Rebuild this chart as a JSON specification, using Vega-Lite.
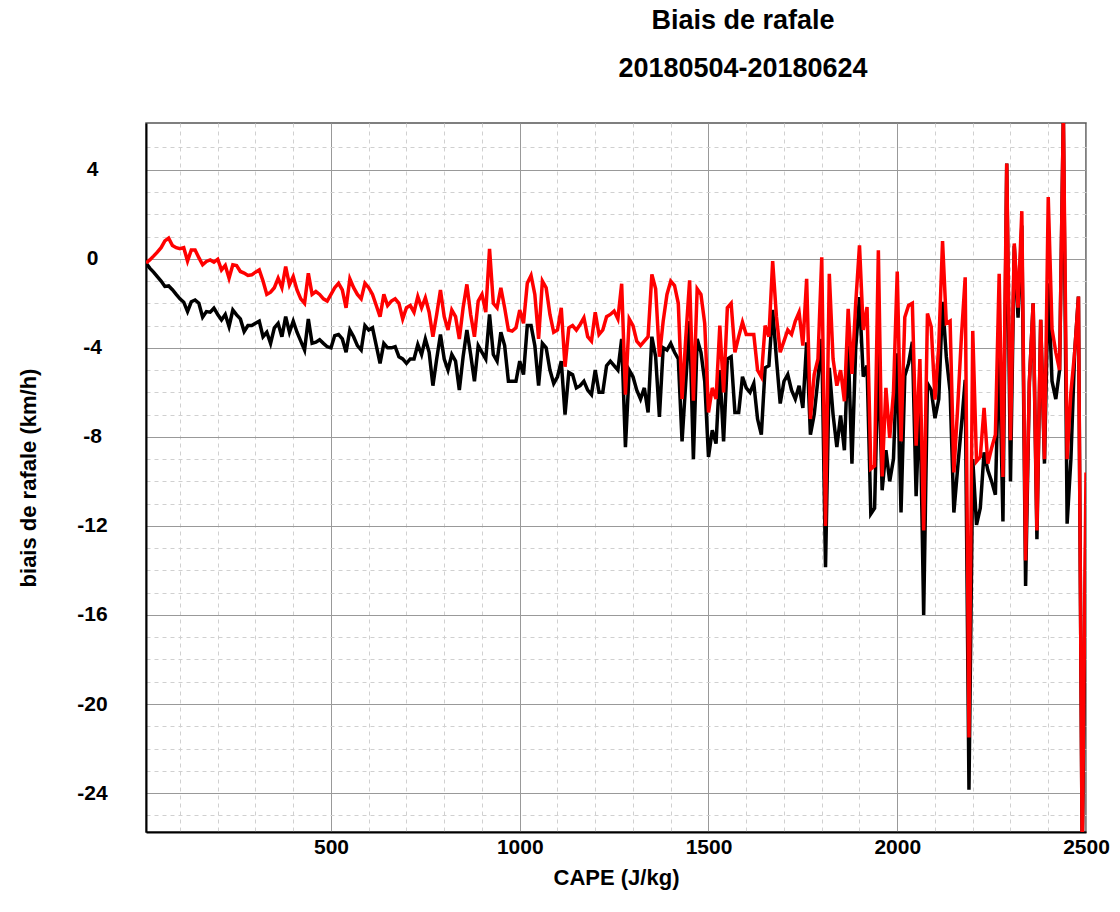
{
 "$schema": "https://vega.github.io/schema/vega-lite/v6.json",
 "width": 940, "height": 709,
 "autosize": {"type": "none"},
 "padding": {"left": 146, "top": 123, "right": 34, "bottom": 80},
 "background": "white",
 "title": {"text": ["Biais de rafale", "20180504-20180624"], "font": "Liberation Sans", "fontSize": 27, "fontWeight": "bold", "color": "black", "lineHeight": 48, "anchor": "middle", "dx": 127, "offset": 40},
 "config": {
  "view": {"stroke": "#555555", "strokeWidth": 1.5},
  "axis": {"labelFont": "Liberation Sans", "labelFontWeight": "bold", "labelFontSize": 21, "labelColor": "black", "titleFont": "Liberation Sans", "titleFontWeight": "bold", "titleFontSize": 22, "titleColor": "black", "ticks": false, "tickSize": 0, "domainColor": "black", "domainWidth": 2, "labelOverlap": false}
 },
 "data": {"values": [
{"cape":10,"noir":-0.19,"rouge":-0.19},{"cape":20,"noir":-0.42,"rouge":-0.05},{"cape":30,"noir":-0.6,"rouge":0.12},{"cape":40,"noir":-0.8,"rouge":0.3},{"cape":50,"noir":-1.0,"rouge":0.5},
{"cape":60,"noir":-1.24,"rouge":0.8},{"cape":70,"noir":-1.22,"rouge":0.93},{"cape":80,"noir":-1.39,"rouge":0.6},{"cape":90,"noir":-1.6,"rouge":0.5},{"cape":100,"noir":-1.8,"rouge":0.45},
{"cape":110,"noir":-1.95,"rouge":0.5},{"cape":120,"noir":-2.37,"rouge":-0.1},{"cape":130,"noir":-1.93,"rouge":0.4},{"cape":140,"noir":-1.85,"rouge":0.4},{"cape":150,"noir":-2.0,"rouge":0.05},
{"cape":160,"noir":-2.62,"rouge":-0.27},{"cape":170,"noir":-2.37,"rouge":-0.12},{"cape":180,"noir":-2.4,"rouge":-0.05},{"cape":190,"noir":-2.22,"rouge":-0.15},{"cape":200,"noir":-2.5,"rouge":-0.02},
{"cape":210,"noir":-2.75,"rouge":-0.5},{"cape":220,"noir":-2.5,"rouge":-0.3},{"cape":230,"noir":-3.04,"rouge":-0.87},{"cape":240,"noir":-2.3,"rouge":-0.27},{"cape":250,"noir":-2.52,"rouge":-0.3},
{"cape":260,"noir":-2.7,"rouge":-0.57},{"cape":270,"noir":-3.27,"rouge":-0.64},{"cape":280,"noir":-3.0,"rouge":-0.75},{"cape":290,"noir":-3.0,"rouge":-0.72},{"cape":300,"noir":-2.9,"rouge":-0.6},
{"cape":310,"noir":-2.8,"rouge":-0.5},{"cape":320,"noir":-3.5,"rouge":-1.0},{"cape":330,"noir":-3.3,"rouge":-1.6},{"cape":340,"noir":-3.8,"rouge":-1.5},{"cape":350,"noir":-3.1,"rouge":-1.3},
{"cape":360,"noir":-2.9,"rouge":-0.87},{"cape":370,"noir":-3.5,"rouge":-1.3},{"cape":380,"noir":-2.6,"rouge":-0.35},{"cape":390,"noir":-3.3,"rouge":-1.17},{"cape":400,"noir":-2.8,"rouge":-0.8},
{"cape":410,"noir":-3.3,"rouge":-1.4},{"cape":420,"noir":-3.7,"rouge":-1.8},{"cape":430,"noir":-4.1,"rouge":-2.0},{"cape":440,"noir":-2.7,"rouge":-0.65},{"cape":450,"noir":-3.8,"rouge":-1.6},
{"cape":460,"noir":-3.75,"rouge":-1.47},{"cape":470,"noir":-3.64,"rouge":-1.6},{"cape":480,"noir":-3.8,"rouge":-1.8},{"cape":490,"noir":-3.95,"rouge":-1.9},{"cape":500,"noir":-4.0,"rouge":-1.6},
{"cape":510,"noir":-3.45,"rouge":-1.3},{"cape":520,"noir":-3.4,"rouge":-1.1},{"cape":530,"noir":-3.6,"rouge":-1.4},{"cape":540,"noir":-4.2,"rouge":-2.2},{"cape":550,"noir":-3.2,"rouge":-0.9},
{"cape":560,"noir":-3.5,"rouge":-1.3},{"cape":570,"noir":-3.9,"rouge":-1.6},{"cape":580,"noir":-4.1,"rouge":-1.8},{"cape":590,"noir":-3.0,"rouge":-1.1},{"cape":600,"noir":-3.2,"rouge":-1.3},
{"cape":610,"noir":-3.1,"rouge":-1.6},{"cape":620,"noir":-3.9,"rouge":-2.1},{"cape":630,"noir":-4.7,"rouge":-2.6},{"cape":640,"noir":-3.8,"rouge":-1.6},{"cape":650,"noir":-4.0,"rouge":-2.1},
{"cape":660,"noir":-4.0,"rouge":-1.9},{"cape":670,"noir":-3.95,"rouge":-1.8},{"cape":680,"noir":-4.4,"rouge":-2.0},{"cape":690,"noir":-4.5,"rouge":-2.7},{"cape":700,"noir":-4.7,"rouge":-2.2},
{"cape":710,"noir":-4.5,"rouge":-2.1},{"cape":720,"noir":-4.5,"rouge":-2.4},{"cape":730,"noir":-3.85,"rouge":-1.7},{"cape":740,"noir":-4.3,"rouge":-2.2},{"cape":750,"noir":-3.6,"rouge":-1.75},
{"cape":760,"noir":-4.2,"rouge":-2.4},{"cape":770,"noir":-5.7,"rouge":-3.5},{"cape":780,"noir":-4.5,"rouge":-2.5},{"cape":790,"noir":-3.4,"rouge":-1.4},{"cape":800,"noir":-4.5,"rouge":-2.6},
{"cape":810,"noir":-5.0,"rouge":-3.2},{"cape":820,"noir":-4.3,"rouge":-2.3},{"cape":830,"noir":-4.6,"rouge":-2.6},{"cape":840,"noir":-5.9,"rouge":-3.6},{"cape":850,"noir":-4.4,"rouge":-2.2},
{"cape":860,"noir":-3.2,"rouge":-1.15},{"cape":870,"noir":-4.3,"rouge":-2.5},{"cape":880,"noir":-5.5,"rouge":-3.5},{"cape":890,"noir":-3.9,"rouge":-1.9},{"cape":900,"noir":-4.2,"rouge":-1.6},
{"cape":910,"noir":-4.5,"rouge":-2.4},{"cape":920,"noir":-2.5,"rouge":0.45},{"cape":930,"noir":-4.3,"rouge":-2.0},{"cape":940,"noir":-4.6,"rouge":-2.2},{"cape":950,"noir":-3.3,"rouge":-1.3},
{"cape":960,"noir":-3.9,"rouge":-2.2},{"cape":970,"noir":-5.5,"rouge":-3.2},{"cape":980,"noir":-5.5,"rouge":-3.25},{"cape":990,"noir":-5.5,"rouge":-3.1},{"cape":1000,"noir":-4.6,"rouge":-2.3},
{"cape":1010,"noir":-5.2,"rouge":-2.9},{"cape":1020,"noir":-3.0,"rouge":-1.1},{"cape":1030,"noir":-3.0,"rouge":-0.75},{"cape":1040,"noir":-3.9,"rouge":-1.6},{"cape":1050,"noir":-5.7,"rouge":-3.6},
{"cape":1060,"noir":-3.8,"rouge":-1.0},{"cape":1070,"noir":-4.0,"rouge":-1.3},{"cape":1080,"noir":-5.0,"rouge":-2.5},{"cape":1090,"noir":-5.6,"rouge":-3.3},{"cape":1100,"noir":-5.3,"rouge":-3.2},
{"cape":1110,"noir":-4.6,"rouge":-2.2},{"cape":1120,"noir":-7.0,"rouge":-4.85},{"cape":1130,"noir":-5.1,"rouge":-3.1},{"cape":1140,"noir":-5.2,"rouge":-3.0},{"cape":1150,"noir":-5.8,"rouge":-3.2},
{"cape":1160,"noir":-5.7,"rouge":-2.95},{"cape":1170,"noir":-5.5,"rouge":-2.65},{"cape":1180,"noir":-5.9,"rouge":-3.5},{"cape":1190,"noir":-6.1,"rouge":-3.7},{"cape":1200,"noir":-5.0,"rouge":-2.4},
{"cape":1210,"noir":-6.0,"rouge":-3.4},{"cape":1220,"noir":-6.0,"rouge":-3.2},{"cape":1230,"noir":-4.8,"rouge":-2.6},{"cape":1240,"noir":-4.6,"rouge":-2.5},{"cape":1250,"noir":-4.8,"rouge":-2.35},
{"cape":1260,"noir":-5.0,"rouge":-2.7},{"cape":1270,"noir":-3.6,"rouge":-1.12},{"cape":1280,"noir":-8.46,"rouge":-6.1},{"cape":1290,"noir":-5.0,"rouge":-2.7},{"cape":1300,"noir":-5.3,"rouge":-3.0},
{"cape":1310,"noir":-5.9,"rouge":-3.7},{"cape":1320,"noir":-6.3,"rouge":-3.9},{"cape":1330,"noir":-5.8,"rouge":-3.7},{"cape":1340,"noir":-6.9,"rouge":-3.5},{"cape":1350,"noir":-3.5,"rouge":-0.7},
{"cape":1360,"noir":-4.4,"rouge":-1.35},{"cape":1370,"noir":-7.1,"rouge":-4.4},{"cape":1380,"noir":-4.0,"rouge":-2.8},{"cape":1390,"noir":-4.1,"rouge":-1.6},{"cape":1400,"noir":-3.8,"rouge":-1.0},
{"cape":1410,"noir":-4.2,"rouge":-1.2},{"cape":1420,"noir":-4.5,"rouge":-2.0},{"cape":1430,"noir":-8.2,"rouge":-6.3},{"cape":1440,"noir":-5.5,"rouge":-3.5},{"cape":1450,"noir":-2.8,"rouge":-0.97},
{"cape":1460,"noir":-9.0,"rouge":-6.37},{"cape":1470,"noir":-3.6,"rouge":-1.35},{"cape":1480,"noir":-4.2,"rouge":-1.6},{"cape":1490,"noir":-5.5,"rouge":-2.9},{"cape":1500,"noir":-8.9,"rouge":-6.9},
{"cape":1510,"noir":-7.7,"rouge":-5.8},{"cape":1520,"noir":-8.3,"rouge":-6.3},{"cape":1530,"noir":-5.0,"rouge":-3.0},{"cape":1540,"noir":-8.2,"rouge":-6.0},{"cape":1550,"noir":-4.5,"rouge":-2.2},
{"cape":1560,"noir":-4.4,"rouge":-2.0},{"cape":1570,"noir":-6.9,"rouge":-4.2},{"cape":1580,"noir":-6.9,"rouge":-3.5},{"cape":1590,"noir":-5.3,"rouge":-2.85},{"cape":1600,"noir":-5.8,"rouge":-3.4},
{"cape":1610,"noir":-6.0,"rouge":-3.4},{"cape":1620,"noir":-5.6,"rouge":-3.4},{"cape":1630,"noir":-7.2,"rouge":-5.0},{"cape":1640,"noir":-7.9,"rouge":-5.3},{"cape":1650,"noir":-4.9,"rouge":-3.0},
{"cape":1660,"noir":-4.8,"rouge":-3.5},{"cape":1670,"noir":-2.3,"rouge":-0.1},{"cape":1680,"noir":-4.5,"rouge":-2.6},{"cape":1690,"noir":-6.5,"rouge":-4.2},{"cape":1700,"noir":-5.5,"rouge":-3.7},
{"cape":1710,"noir":-5.2,"rouge":-3.2},{"cape":1720,"noir":-5.9,"rouge":-3.4},{"cape":1730,"noir":-6.3,"rouge":-2.8},{"cape":1740,"noir":-5.7,"rouge":-2.4},{"cape":1750,"noir":-6.7,"rouge":-3.9},
{"cape":1760,"noir":-3.75,"rouge":-0.9},{"cape":1770,"noir":-7.9,"rouge":-7.2},{"cape":1780,"noir":-7.0,"rouge":-5.2},{"cape":1790,"noir":-5.4,"rouge":-4.5},{"cape":1800,"noir":-3.6,"rouge":0.07},
{"cape":1810,"noir":-13.86,"rouge":-12.0},{"cape":1820,"noir":-4.9,"rouge":-0.67},{"cape":1830,"noir":-7.0,"rouge":-4.5},{"cape":1840,"noir":-8.46,"rouge":-5.7},{"cape":1850,"noir":-7.04,"rouge":-5.0},
{"cape":1860,"noir":-8.6,"rouge":-6.4},{"cape":1870,"noir":-3.9,"rouge":-2.25},{"cape":1880,"noir":-9.2,"rouge":-5.17},{"cape":1890,"noir":-4.0,"rouge":-2.0},{"cape":1900,"noir":-1.72,"rouge":0.6},
{"cape":1910,"noir":-5.3,"rouge":-3.2},{"cape":1920,"noir":-4.8,"rouge":-2.17},{"cape":1930,"noir":-11.46,"rouge":-9.44},{"cape":1940,"noir":-11.2,"rouge":-9.3},{"cape":1950,"noir":-4.2,"rouge":0.38},
{"cape":1960,"noir":-10.4,"rouge":-9.78},{"cape":1970,"noir":-8.6,"rouge":-5.8},{"cape":1980,"noir":-10.0,"rouge":-8.05},{"cape":1990,"noir":-9.0,"rouge":-6.0},{"cape":2000,"noir":-4.25,"rouge":-0.57},
{"cape":2010,"noir":-11.4,"rouge":-8.2},{"cape":2020,"noir":-5.27,"rouge":-2.63},{"cape":2030,"noir":-4.7,"rouge":-2.1},{"cape":2040,"noir":-3.73,"rouge":-2.0},{"cape":2050,"noir":-10.67,"rouge":-8.4},
{"cape":2060,"noir":-6.1,"rouge":-4.5},{"cape":2070,"noir":-16.0,"rouge":-12.2},{"cape":2080,"noir":-5.6,"rouge":-2.46},{"cape":2090,"noir":-5.9,"rouge":-3.06},{"cape":2100,"noir":-7.16,"rouge":-6.33},
{"cape":2110,"noir":-6.3,"rouge":-3.9},{"cape":2120,"noir":-1.93,"rouge":0.8},{"cape":2130,"noir":-4.4,"rouge":-2.9},{"cape":2140,"noir":-5.96,"rouge":-2.8},{"cape":2150,"noir":-11.4,"rouge":-9.6},
{"cape":2160,"noir":-9.4,"rouge":-6.7},{"cape":2170,"noir":-7.5,"rouge":-3.5},{"cape":2180,"noir":-5.44,"rouge":-0.83},{"cape":2190,"noir":-23.85,"rouge":-21.5},{"cape":2200,"noir":-9.0,"rouge":-3.24},
{"cape":2210,"noir":-11.95,"rouge":-9.1},{"cape":2220,"noir":-11.2,"rouge":-8.9},{"cape":2230,"noir":-8.7,"rouge":-6.7},{"cape":2240,"noir":-9.5,"rouge":-9.2},{"cape":2250,"noir":-10.0,"rouge":-8.5},
{"cape":2260,"noir":-10.6,"rouge":-7.9},{"cape":2270,"noir":-3.8,"rouge":-0.67},{"cape":2280,"noir":-11.8,"rouge":-9.8},{"cape":2290,"noir":4.28,"rouge":4.28},{"cape":2300,"noir":-10.0,"rouge":-8.15},
{"cape":2310,"noir":0.58,"rouge":0.69},{"cape":2320,"noir":-2.64,"rouge":-2.2},{"cape":2330,"noir":1.5,"rouge":2.14},{"cape":2340,"noir":-14.7,"rouge":-13.55},{"cape":2350,"noir":-5.55,"rouge":-5.55},
{"cape":2360,"noir":-2.0,"rouge":-2.0},{"cape":2370,"noir":-12.6,"rouge":-12.2},{"cape":2380,"noir":-2.74,"rouge":-2.74},{"cape":2390,"noir":-9.2,"rouge":-9.0},{"cape":2400,"noir":-1.1,"rouge":2.77},
{"cape":2410,"noir":-5.5,"rouge":-3.16},{"cape":2420,"noir":-6.3,"rouge":-4.2},{"cape":2430,"noir":-5.0,"rouge":-5.0},{"cape":2440,"noir":6.5,"rouge":6.5},{"cape":2450,"noir":-11.9,"rouge":-9.0},
{"cape":2460,"noir":-9.0,"rouge":-6.0},{"cape":2470,"noir":-4.2,"rouge":-4.2},{"cape":2480,"noir":-1.7,"rouge":-1.7},{"cape":2490,"noir":-27,"rouge":-27},{"cape":2500,"noir":-11.7,"rouge":-9.6}
 ]},
 "layer": [
  {"mark": {"type": "line", "color": "black", "strokeWidth": 3.5, "clip": true},
   "encoding": {
    "x": {"field": "cape", "type": "quantitative", "title": "CAPE (J/kg)",
          "scale": {"domain": [10, 2500], "nice": false, "zero": false},
          "axis": {"values": [100,200,300,400,500,600,700,800,900,1000,1100,1200,1300,1400,1500,1600,1700,1800,1900,2000,2100,2200,2300,2400,2500],
                   "tickCount": 1000, "labelExpr": "datum.value % 500 === 0 ? '' + datum.value : ''",
                   "labelOverlap": false, "labelFlush": false, "labelBound": false,
                   "labelPadding": 4, "titlePadding": 10,
                   "gridColor": {"condition": {"test": "datum.value % 500 === 0", "value": "#999999"}, "value": "#d0d0d0"},
                   "gridDash": {"condition": {"test": "datum.value % 500 === 0", "value": []}, "value": [4, 4]},
                   "gridWidth": 1}},
    "y": {"field": "noir", "type": "quantitative", "title": "biais de rafale (km/h)",
          "scale": {"domain": [-25.75, 6.1], "nice": false, "zero": false},
          "axis": {"values": [-25,-24,-23,-22,-21,-20,-19,-18,-17,-16,-15,-14,-13,-12,-11,-10,-9,-8,-7,-6,-5,-4,-3,-2,-1,0,1,2,3,4,5],
                   "tickCount": 1000, "labelExpr": "datum.value % 4 === 0 ? '' + datum.value : ''",
                   "labelOverlap": false, "labelFlush": false, "labelBound": false,
                   "labelAlign": "center", "labelPadding": 54, "titlePadding": 36,
                   "gridColor": {"condition": {"test": "datum.value % 4 === 0", "value": "#999999"}, "value": "#d0d0d0"},
                   "gridDash": {"condition": {"test": "datum.value % 4 === 0", "value": []}, "value": [4, 4]},
                   "gridWidth": 1}}
   }},
  {"mark": {"type": "line", "color": "#ff0000", "strokeWidth": 3.5, "clip": true},
   "encoding": {
    "x": {"field": "cape", "type": "quantitative", "title": "CAPE (J/kg)"},
    "y": {"field": "rouge", "type": "quantitative", "title": "biais de rafale (km/h)"}
   }}
 ]
}
